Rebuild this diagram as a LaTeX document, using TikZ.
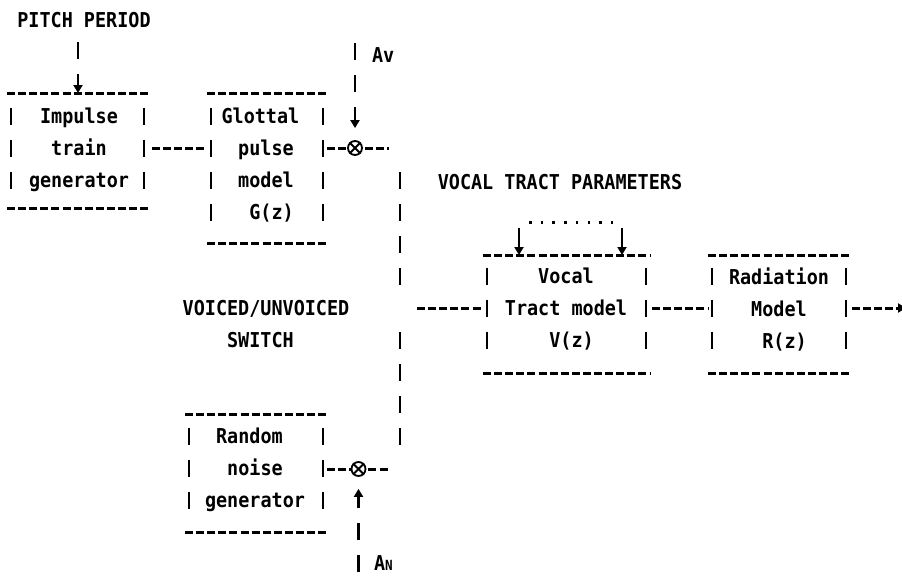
\documentclass[tikz,border=0pt]{standalone}
\usepackage{fontspec}
\setmonofont{DejaVu Sans Mono}[FakeStretch=0.9]
\usetikzlibrary{arrows.meta,calc}
\tikzset{
  txt/.style={font=\ttfamily\bfseries\fontsize{20.5pt}{32pt}\selectfont, inner sep=0pt, outer sep=0pt, align=center},
  frame/.style={inner sep=0pt, outer sep=0pt, draw=none},
  hd/.style={line width=3pt, dash pattern=on 8pt off 3.1pt},
  vb/.style={line width=2.6pt, dash pattern=on 17pt off 15pt},
  tip/.style={-{Triangle[length=8pt,width=9pt]}},
  mult/.style={circle, draw, line width=1.8pt, minimum size=14pt, inner sep=0pt},
  dots/.style={line width=3pt, dash pattern=on 2.5pt off 9.2pt},
}
\newcommand\hp{\hphantom{x}}
\begin{document}
\begin{tikzpicture}[x=1pt,y=-1pt]
\useasboundingbox[fill=white] (0,0) rectangle (902,576);

% box frames
\node[frame, minimum width=141pt, minimum height=115pt] (imp) at (77.5,150.5) {};
\node[frame, minimum width=120pt, minimum height=150pt] (glo) at (267,168) {};
\node[frame, minimum width=142pt, minimum height=118pt] (rnd) at (256,473) {};
\node[frame, minimum width=167pt, minimum height=118pt] (voc) at (566.5,314) {};
\node[frame, minimum width=142pt, minimum height=118pt] (rad) at (779,314) {};

\foreach \b/\t/\bt in {imp/14.5/19.5, glo/14.5/22.5, rnd/13.5/23.5, voc/12.5/24.5, rad/12.5/24.5} {
  \draw[hd] (\b.north west) -- (\b.north east);
  \draw[hd] (\b.south west) -- (\b.south east);
  \draw[vb] ($(\b.north west)+(4,\t)$) -- ($(\b.south west)+(4,-\bt)$);
  \draw[vb] ($(\b.north east)+(-4,\t)$) -- ($(\b.south east)+(-4,-\bt)$);
}

% texts
\node[txt] (imp-t) at (79,150) {Impulse\\train\\generator};
\node[txt] (glo-t) at (266,165.5) {Glottal\hp\\pulse\\model\\\hp G(z)};
\node[txt] (rnd-t) at (255,470) {Random\hp\\noise\\generator};
\node[txt] (voc-t) at (566,309.5) {Vocal\\Tract model\\\hp V(z)};
\node[txt] (rad-t) at (779,309.5) {Radiation\\Model\\\hp R(z)};
\node[txt] (sw-t) at (266,324) {VOICED/UNVOICED\\SWITCH\hp};
\node[txt] (pp-t) at (84,20) {PITCH PERIOD};
\node[txt] (vt-t) at (560,182) {VOCAL TRACT PARAMETERS};
\node[txt, anchor=west] (av-t) at (372,55) {Av};
\node[txt, anchor=west] (an-t) at (374,563) {A{\fontsize{14pt}{14pt}\selectfont N}};

% multipliers
\node[mult] (mv) at (355,148) {};
\draw[line width=1.8pt] (mv.45) -- (mv.225) (mv.135) -- (mv.315);
\node[mult] (mn) at (358.5,469) {};
\draw[line width=1.8pt] (mn.45) -- (mn.225) (mn.135) -- (mn.315);

% control inputs
\coordinate (pp) at (78,42);
\draw[vb, tip] (pp) -- (pp |- imp.north);
\coordinate (av) at (355,43);
\draw[vb, tip, shorten >=12pt] (av) -- (mv.north);
\coordinate (an) at (358.5,572);
\draw[vb, tip, shorten >=12pt] (an) -- (mn.south);

\coordinate (vp1) at (519,228);
\coordinate (vp2) at (622,228);
\draw[line width=2.6pt, tip] (vp1) -- (vp1 |- voc.north);
\draw[line width=2.6pt, tip] (vp2) -- (vp2 |- voc.north);
\coordinate (d1) at (529,222);
\coordinate (d2) at (615,222);
\draw[dots] (d1) -- (d2);

% signal path
\coordinate (c1) at ($(imp.east)+(4,-2.5)$);
\draw[hd] (c1) -- (c1 -| glo.west);
\draw[hd] (mv.west -| glo.east) -- (mv.west);
\coordinate (vr) at (389,148);
\draw[hd, shorten <=2pt] (mv.east) -- (vr);

\draw[hd] (mn.west -| rnd.east) -- (mn.west);
\coordinate (nr) at (390,469);
\draw[hd, shorten <=2pt] (mn.east) -- (nr);

\coordinate (j1) at (400,172);
\coordinate (j2) at (400,285);
\coordinate (j3) at (400,332);
\coordinate (j4) at (400,445);
\draw[vb] (j1) -- (j2);
\draw[vb] (j3) -- (j4);
\coordinate (j5) at (417,308);
\draw[hd] (j5) -- (j5 -| voc.west);

\coordinate (c3) at ($(voc.east)+(2,-6)$);
\draw[hd] (c3) -- (c3 -| rad.west);
\coordinate (c4) at ($(rad.east)+(2,-6)$);
\coordinate (out) at (906,308);
\draw[hd, tip] (c4) -- (out);
\end{tikzpicture}
\end{document}
